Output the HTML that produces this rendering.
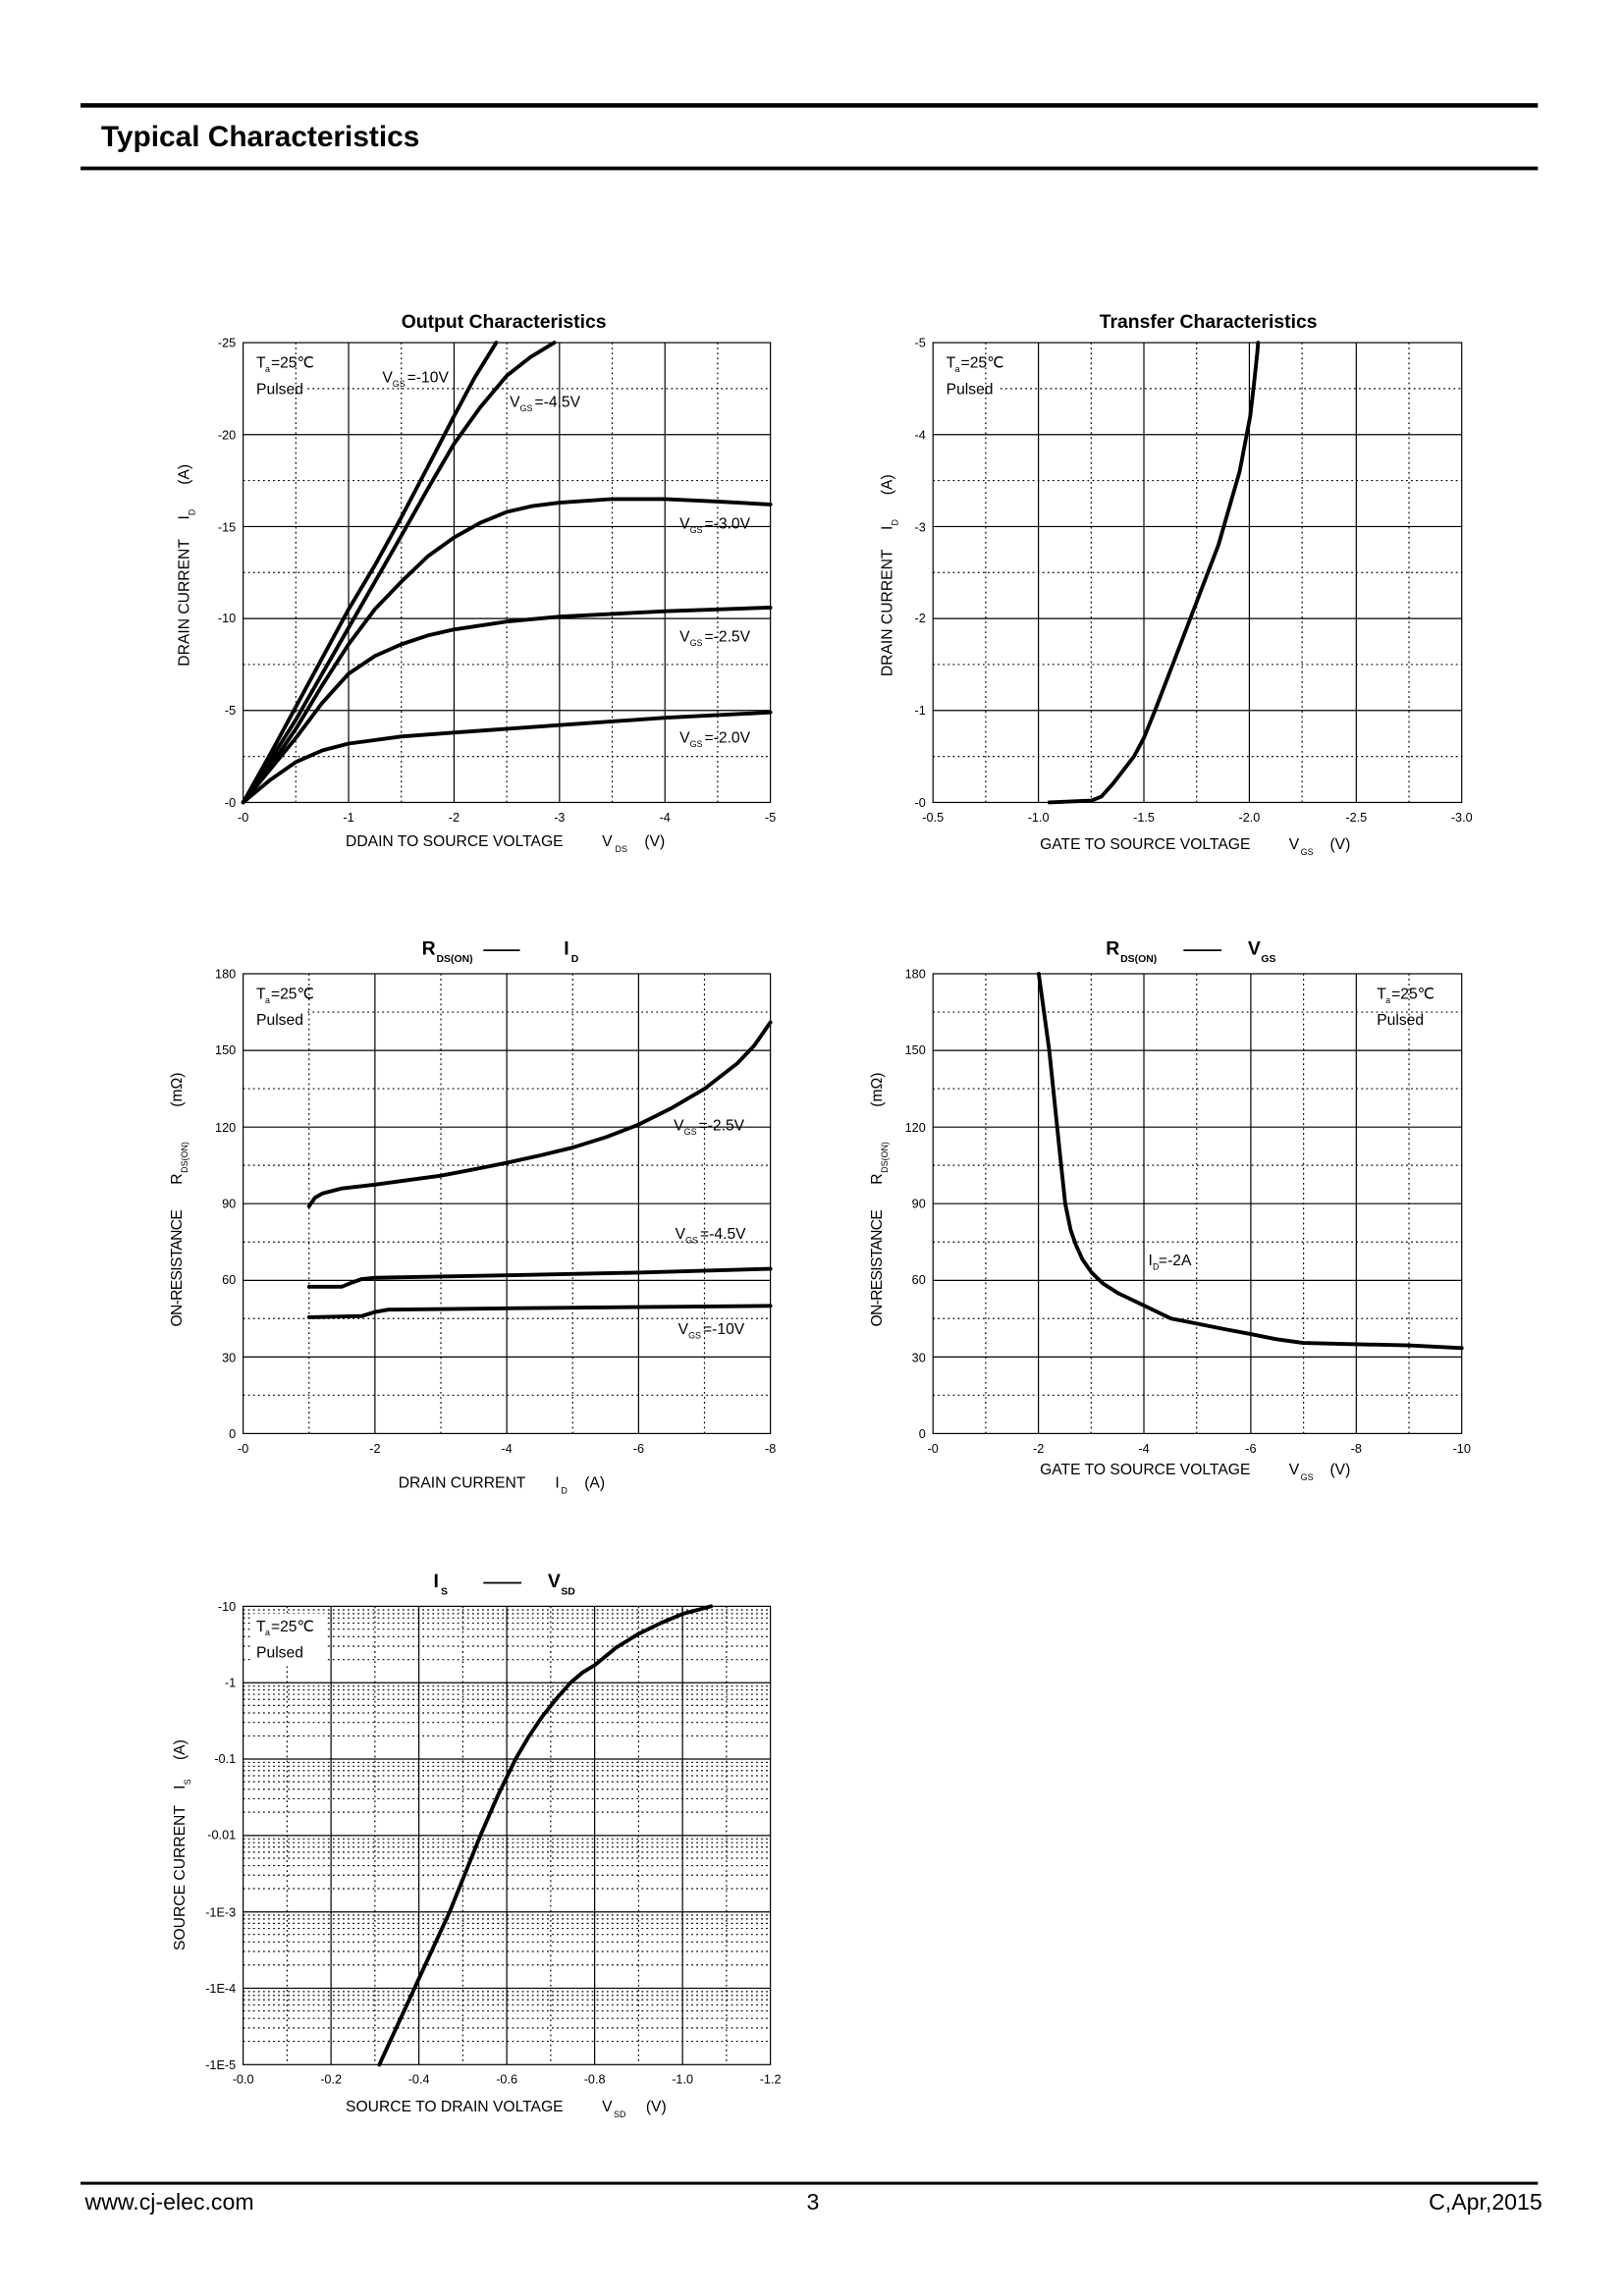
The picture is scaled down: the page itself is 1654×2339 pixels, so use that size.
<!DOCTYPE html>
<html><head><meta charset="utf-8"><style>
html,body{margin:0;padding:0;background:#fff}
svg{display:block}
text{font-family:"Liberation Sans",Arial,sans-serif;fill:#000}
.t{font-size:8.5px}
.a{font-size:10.5px}
.s{font-size:6px}
.h{font-size:13px;font-weight:bold}
.g{stroke:#000;stroke-width:0.8;fill:none}
.d{stroke:#000;stroke-width:0.8;stroke-dasharray:1.2 2.2;fill:none}
.c{stroke:#000;stroke-width:2.6;fill:none;stroke-linejoin:round;stroke-linecap:round}
</style></head><body>
<svg width="1654" height="2339" viewBox="0 0 1108.8 1568" xmlns="http://www.w3.org/2000/svg">
<rect width="1108.8" height="1568" fill="#fff"/>
<line x1="55" y1="72" x2="1050" y2="72" stroke="#000" stroke-width="3"/>
<line x1="55" y1="115" x2="1050" y2="115" stroke="#000" stroke-width="2.5"/>
<text x="69" y="100" style="font-size:20px;font-weight:bold">Typical Characteristics</text>
<line x1="55" y1="1491" x2="1050" y2="1491" stroke="#000" stroke-width="2"/>
<text x="58" y="1509" style="font-size:15.5px">www.cj-elec.com</text>
<text x="555" y="1509" style="font-size:15.5px" text-anchor="middle">3</text>
<text x="1053" y="1509" style="font-size:15.5px" text-anchor="end">C,Apr,2015</text>

<!-- Plot 1 -->
<text x="344" y="224" class="h" text-anchor="middle">Output Characteristics</text>
<path class="d" d="M202 234V548M274 234V548M346 234V548M418 234V548M490 234V548M166 516.6H526M166 453.8H526M166 391H526M166 328.2H526M210 265.4H526"/>
<path class="g" d="M238 234V548M310 234V548M382 234V548M454 234V548M166 485.2H526M166 422.4H526M166 359.6H526M166 296.8H526"/>
<rect x="166" y="234" width="360" height="314" class="g"/>
<g class="t" text-anchor="end"><text x="161" y="237">-25</text><text x="161" y="300">-20</text><text x="161" y="363">-15</text><text x="161" y="425">-10</text><text x="161" y="488">-5</text><text x="161" y="551">-0</text></g>
<g class="t" text-anchor="middle"><text x="166" y="561">-0</text><text x="238" y="561">-1</text><text x="310" y="561">-2</text><text x="382" y="561">-3</text><text x="454" y="561">-4</text><text x="526" y="561">-5</text></g>
<text x="236" y="578" class="a">DDAIN TO SOURCE VOLTAGE</text><text x="411" y="578" class="a">V</text><text x="420" y="582" class="s">DS</text><text x="440" y="578" class="a">(V)</text>
<g transform="translate(129,385) rotate(-90)"><text x="-70" y="0" class="a">DRAIN CURRENT</text><text x="30" y="0" class="a">I</text><text x="33" y="4" class="s">D</text><text x="54" y="0" class="a">(A)</text></g>
<text x="175" y="251" class="a">T</text><text x="181" y="254" class="s">a</text><text x="185" y="251" class="a">=25℃</text>
<text x="175" y="269" class="a">Pulsed</text>
<text x="261" y="261" class="a">V</text><text x="268" y="264" class="s">GS</text><text x="278" y="261" class="a">=-10V</text>
<text x="348" y="278" class="a">V</text><text x="355" y="281" class="s">GS</text><text x="365" y="278" class="a">=-4.5V</text>
<text x="464" y="361" class="a">V</text><text x="471" y="364" class="s">GS</text><text x="481" y="361" class="a">=-3.0V</text>
<text x="464" y="438" class="a">V</text><text x="471" y="441" class="s">GS</text><text x="481" y="438" class="a">=-2.5V</text>
<text x="464" y="507" class="a">V</text><text x="471" y="510" class="s">GS</text><text x="481" y="507" class="a">=-2.0V</text>
<path class="c" d="M166 548L184 516L202 482.7L238 416.1L256 386L274 353.3L292 319L310 284.2L324 258L338.8 234"/>
<path class="c" d="M166 548L184 520L202 491.5L238 428.7L274 365.9L292 334L310 303.1L328 278L346 256.6L362 244L378.4 234"/>
<path class="c" d="M166 548L184 524L202 497.8L220 468L238 440L256 416L274 397.3L292 380L310 367.1L328 357L346 349.6L364 345.5L382 343.3L418 340.8L454 340.8L490 342.5L526 344.5"/>
<path class="c" d="M166 548L184 526L202 504L220 480L238 460.1L256 448L274 440L292 434L310 429.9L346 424.5L382 421.1L454 417.4L526 414.9"/>
<path class="c" d="M166 548L184 533L202 520.4L220 512.5L238 507.8L274 503L310 500.3L382 495.2L454 490.2L526 486.5"/>

<!-- Plot 2 -->
<text x="825" y="224" class="h" text-anchor="middle">Transfer Characteristics</text>
<path class="d" d="M673 234V548M745 234V548M817 234V548M889 234V548M962 234V548M637 516.6H998M637 453.8H998M637 391H998M637 328.2H998M683 265.4H998"/>
<path class="g" d="M709 234V548M781 234V548M853 234V548M926 234V548M637 485.2H998M637 422.4H998M637 359.6H998M637 296.8H998"/>
<rect x="637" y="234" width="361" height="314" class="g"/>
<g class="t" text-anchor="end"><text x="632" y="237">-5</text><text x="632" y="300">-4</text><text x="632" y="363">-3</text><text x="632" y="425">-2</text><text x="632" y="488">-1</text><text x="632" y="551">-0</text></g>
<g class="t" text-anchor="middle"><text x="637" y="561">-0.5</text><text x="709" y="561">-1.0</text><text x="781" y="561">-1.5</text><text x="853" y="561">-2.0</text><text x="926" y="561">-2.5</text><text x="998" y="561">-3.0</text></g>
<text x="710" y="580" class="a">GATE TO SOURCE VOLTAGE</text><text x="880" y="580" class="a">V</text><text x="888" y="584" class="s">GS</text><text x="908" y="580" class="a">(V)</text>
<g transform="translate(609,392) rotate(-90)"><text x="-70" y="0" class="a">DRAIN CURRENT</text><text x="30" y="0" class="a">I</text><text x="33" y="4" class="s">D</text><text x="54" y="0" class="a">(A)</text></g>
<text x="646" y="251" class="a">T</text><text x="652" y="254" class="s">a</text><text x="656" y="251" class="a">=25℃</text>
<text x="646" y="269" class="a">Pulsed</text>
<path class="c" d="M716.4 548L745.3 546.7L752 544L759.7 535.4L767 526L774.2 516.6L781 504L788.6 485.2L803.1 447.5L817.5 409.8L831.9 372.2L846.4 321.9L853.6 284.2L856.5 259.1L858.5 240L859 234"/>

<!-- Plot 3 -->
<text x="288" y="652" class="h">R</text><text x="298" y="657" style="font-size:7px;font-weight:bold">DS(ON)</text>
<line x1="330" y1="649" x2="355" y2="649" stroke="#000" stroke-width="1.2"/>
<text x="385" y="652" class="h">I</text><text x="390" y="657" style="font-size:7px;font-weight:bold">D</text>
<path class="d" d="M211 665V979M301 665V979M391 665V979M481 665V979M166 952.8H526M166 900.5H526M166 848.2H526M166 795.8H526M166 743.5H526M210 691.2H526"/>
<path class="g" d="M256 665V979M346 665V979M436 665V979M166 926.7H526M166 874.4H526M166 822H526M166 769.7H526M166 717.4H526"/>
<rect x="166" y="665" width="360" height="314" class="g"/>
<g class="t" text-anchor="end"><text x="161" y="668">180</text><text x="161" y="720">150</text><text x="161" y="773">120</text><text x="161" y="825">90</text><text x="161" y="877">60</text><text x="161" y="930">30</text><text x="161" y="982">0</text></g>
<g class="t" text-anchor="middle"><text x="166" y="992">-0</text><text x="256" y="992">-2</text><text x="346" y="992">-4</text><text x="436" y="992">-6</text><text x="526" y="992">-8</text></g>
<text x="272" y="1016" class="a">DRAIN CURRENT</text><text x="379" y="1016" class="a">I</text><text x="383" y="1020" class="s">D</text><text x="399" y="1016" class="a">(A)</text>
<g transform="translate(124,822) rotate(-90)"><text x="-84" y="0" class="a" textLength="80" lengthAdjust="spacing">ON-RESISTANCE</text><text x="13" y="0" class="a">R</text><text x="21" y="4" class="s">DS(ON)</text><text x="66" y="0" class="a">(mΩ)</text></g>
<text x="175" y="682" class="a">T</text><text x="181" y="685" class="s">a</text><text x="185" y="682" class="a">=25℃</text>
<text x="175" y="700" class="a">Pulsed</text>
<text x="460" y="772" class="a">V</text><text x="467" y="775" class="s">GS</text><text x="477" y="772" class="a">=-2.5V</text>
<text x="461" y="846" class="a">V</text><text x="468" y="849" class="s">GS</text><text x="478" y="846" class="a">=-4.5V</text>
<text x="463" y="911" class="a">V</text><text x="470" y="914" class="s">GS</text><text x="480" y="911" class="a">=-10V</text>
<path class="c" d="M211 823.8L215 818L220 815.1L233.5 811.6L256 809L278 806L301 802.9L324 798.5L346 794.1L369 789L391 783.7L414 776.5L436 768L459 756.5L481 743.6L503.5 726.1L515 714L526 698.2"/>
<path class="c" d="M211 878.7L233.5 878.7L240 876L247 873.5L256 872.6L346 870.9L436 869.1L526 866.5"/>
<path class="c" d="M211 899.6L247 898.8L256 896L265 894.4L346 893.5L526 891.8"/>

<!-- Plot 4 -->
<text x="755" y="652" class="h">R</text><text x="765" y="657" style="font-size:7px;font-weight:bold">DS(ON)</text>
<line x1="808" y1="649" x2="834" y2="649" stroke="#000" stroke-width="1.2"/>
<text x="852" y="652" class="h">V</text><text x="861" y="657" style="font-size:7px;font-weight:bold">GS</text>
<path class="d" d="M673 665V979M745 665V979M817 665V979M890 665V979M962 665V979M637 952.8H998M637 900.5H998M637 848.2H998M637 795.8H998M637 743.5H998M637 691.2H998"/>
<path class="g" d="M709 665V979M781 665V979M854 665V979M926 665V979M637 926.7H998M637 874.4H998M637 822H998M637 769.7H998M637 717.4H998"/>
<rect x="637" y="665" width="361" height="314" class="g"/>
<g class="t" text-anchor="end"><text x="632" y="668">180</text><text x="632" y="720">150</text><text x="632" y="773">120</text><text x="632" y="825">90</text><text x="632" y="877">60</text><text x="632" y="930">30</text><text x="632" y="982">0</text></g>
<g class="t" text-anchor="middle"><text x="637" y="992">-0</text><text x="709" y="992">-2</text><text x="781" y="992">-4</text><text x="854" y="992">-6</text><text x="926" y="992">-8</text><text x="998" y="992">-10</text></g>
<text x="710" y="1007" class="a">GATE TO SOURCE VOLTAGE</text><text x="880" y="1007" class="a">V</text><text x="888" y="1011" class="s">GS</text><text x="908" y="1007" class="a">(V)</text>
<g transform="translate(602,822) rotate(-90)"><text x="-84" y="0" class="a" textLength="80" lengthAdjust="spacing">ON-RESISTANCE</text><text x="13" y="0" class="a">R</text><text x="21" y="4" class="s">DS(ON)</text><text x="66" y="0" class="a">(mΩ)</text></g>
<text x="940" y="682" class="a">T</text><text x="946" y="685" class="s">a</text><text x="950" y="682" class="a">=25℃</text>
<text x="940" y="700" class="a">Pulsed</text>
<text x="784" y="864" class="a">I</text><text x="787" y="867" class="s">D</text><text x="791" y="864" class="a">=-2A</text>
<path class="c" d="M709.2 665L716.4 717.4L723.6 787.2L727.3 822L731 840L734.5 850L739 860L745.3 869.1L753 876.5L763.4 883.1L781.4 891.8L799.5 900.5L817.5 904L835 907.5L853.6 911L871 914.5L889.7 917.1L925.8 918L961.9 918.8L998 920.6"/>

<!-- Plot 5 -->
<text x="296" y="1084" class="h">I</text><text x="301" y="1089" style="font-size:7px;font-weight:bold">S</text>
<line x1="330" y1="1081" x2="356" y2="1081" stroke="#000" stroke-width="1.2"/>
<text x="374" y="1084" class="h">V</text><text x="383" y="1089" style="font-size:7px;font-weight:bold">SD</text>
<path class="d" d="M196 1097V1410M256 1097V1410M316 1097V1410M376 1097V1410M436 1097V1410M496 1097V1410"/>
<path class="d" d="M166 1133.4H526M166 1124.2H526M166 1117.7H526M166 1112.6H526M166 1108.5H526M166 1105H526M166 1102H526M166 1099.4H526
M166 1185.5H526M166 1176.3H526M166 1169.8H526M166 1164.7H526M166 1160.6H526M166 1157.1H526M166 1154.1H526M166 1151.5H526
M166 1237.6H526M166 1228.4H526M166 1221.9H526M166 1216.8H526M166 1212.7H526M166 1209.2H526M166 1206.2H526M166 1203.6H526
M166 1289.8H526M166 1280.6H526M166 1274.1H526M166 1269H526M166 1264.9H526M166 1261.4H526M166 1258.4H526M166 1255.8H526
M166 1341.9H526M166 1332.7H526M166 1326.2H526M166 1321.1H526M166 1317H526M166 1313.5H526M166 1310.5H526M166 1307.9H526
M166 1394.1H526M166 1384.9H526M166 1378.4H526M166 1373.3H526M166 1369.2H526M166 1365.7H526M166 1362.7H526M166 1360.1H526"/>
<path class="g" d="M226 1097V1410M286 1097V1410M346 1097V1410M406 1097V1410M466 1097V1410M166 1149.2H526M166 1201.3H526M166 1253.5H526M166 1305.7H526M166 1357.8H526"/>
<rect x="166" y="1097" width="360" height="313" class="g"/>
<rect x="172" y="1102" width="50" height="36" fill="#fff"/>
<g class="t" text-anchor="end"><text x="161" y="1100">-10</text><text x="161" y="1152">-1</text><text x="161" y="1204">-0.1</text><text x="161" y="1256">-0.01</text><text x="161" y="1309">-1E-3</text><text x="161" y="1361">-1E-4</text><text x="161" y="1413">-1E-5</text></g>
<g class="t" text-anchor="middle"><text x="166" y="1423">-0.0</text><text x="226" y="1423">-0.2</text><text x="286" y="1423">-0.4</text><text x="346" y="1423">-0.6</text><text x="406" y="1423">-0.8</text><text x="466" y="1423">-1.0</text><text x="526" y="1423">-1.2</text></g>
<text x="236" y="1442" class="a">SOURCE TO DRAIN VOLTAGE</text><text x="411" y="1442" class="a">V</text><text x="419" y="1446" class="s">SD</text><text x="441" y="1442" class="a">(V)</text>
<g transform="translate(126,1254) rotate(-90)"><text x="-78" y="0" class="a">SOURCE CURRENT</text><text x="32" y="0" class="a">I</text><text x="35" y="4" class="s">S</text><text x="52" y="0" class="a">(A)</text></g>
<text x="175" y="1114" class="a">T</text><text x="181" y="1117" class="s">a</text><text x="185" y="1114" class="a">=25℃</text>
<text x="175" y="1132" class="a">Pulsed</text>
<path class="c" d="M259 1410L283 1357.8L307 1305.7L328 1253.5L340 1226L352 1201.3L361 1186L370 1172.6L380 1160L389.5 1149.2L398 1142L406 1137.2L421 1125L436 1115.8L451 1108.5L466 1102.2L485.5 1097"/>
</svg>
</body></html>
